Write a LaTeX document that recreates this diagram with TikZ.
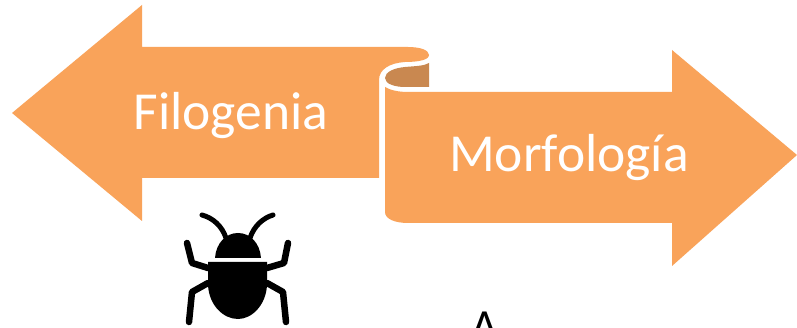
\documentclass[tikz,border=0pt]{standalone}
\usepackage{fontspec}
\setmainfont{Carlito}
\definecolor{ribbon}{HTML}{F9A35A}
\definecolor{ribbonfold}{HTML}{C98850}
\tikzset{
  ribbonshape/.style={fill=ribbon,draw=none},
  foldshape/.style={fill=ribbonfold,draw=none},
  ribbonlabel/.style={text=white,font=\fontsize{53.5}{58}\selectfont,inner sep=0pt,anchor=center},
  bugline/.style={draw=black,line width=5pt,line cap=round,line join=round,fill=none},
  buglimb/.style={draw=black,line width=6.5pt,line cap=round,line join=round,fill=none},
  bugfill/.style={fill=black,draw=none}
}
\begin{document}
\begin{tikzpicture}[x=1pt,y=-1pt]
\useasboundingbox (0,0) rectangle (797,328);
\fill[white] (0,0) rectangle (797,328);
% left arrow
\path[ribbonshape] (12,113) -- (142,5) -- (142,47) -- (408,47)
  .. controls (420,47) and (429,50) .. (429,55)
  .. controls (429,60) and (418,62) .. (405,62)
  .. controls (390,63) and (379,69) .. (379,80)
  -- (379,178) -- (142,178) -- (142,221) -- cycle;
% fold
\path[foldshape] (429,63)
  .. controls (424,66) and (416,66) .. (405,67)
  .. controls (394,68) and (385,72) .. (385,78)
  .. controls (385,84) and (395,87) .. (405,87)
  -- (429,87) -- cycle;
% right arrow
\path[ribbonshape] (385,87)
  .. controls (390,90) and (398,92) .. (408,92)
  -- (672,92) -- (672,50) -- (797,155) -- (672,266) -- (672,223) -- (408,223)
  .. controls (395,223) and (385,219) .. (385,212) -- cycle;
\node[ribbonlabel] (filo) at (231,116) {Filogenia};
\node[ribbonlabel] (morfo) at (569,158) {Morfología};
% bug
\path[bugfill] (215,258) .. controls (216,243) and (226,233) .. (238,233)
  .. controls (250,233) and (260,243) .. (261,258) -- cycle;
\path[bugfill] (208,262) -- (267,262) -- (267,285)
  .. controls (266,305) and (252,319) .. (238,319)
  .. controls (223,319) and (209,305) .. (208,285) -- cycle;
\draw[bugline] (226,238) .. controls (222,226) and (213,218) .. (202,215);
\draw[bugline] (250,238) .. controls (254,226) and (263,218) .. (273,215);
\draw[buglimb] (208,268) -- (192,263) -- (187,243);
\draw[buglimb] (267,268) -- (284,263) -- (288,243);
\draw[buglimb] (208,283) -- (192,292) -- (189,322);
\draw[buglimb] (267,283) -- (283,292) -- (286,322);
% cropped letter
\begin{scope}
\clip (0,0) rectangle (797,328);
\node[text=black,font=\fontsize{46}{50}\selectfont,inner sep=0pt,anchor=base] (cut) at (485,341) {A};
\end{scope}
\end{tikzpicture}
\end{document}
